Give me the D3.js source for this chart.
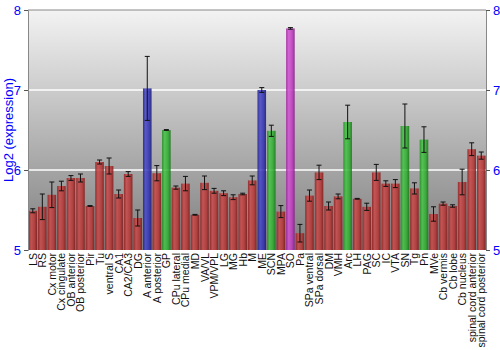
<!DOCTYPE html>
<html>
<head>
<meta charset="utf-8">
<script src="https://cdn.jsdelivr.net/npm/d3@7"></script>
<style>
  html, body { margin: 0; padding: 0; background: #fff; }
  svg { display: block; font-family: "Liberation Sans", Arial, sans-serif; }
</style>
</head>
<body>
<svg id="chart" width="500" height="350"></svg>
<script>
// Brain regions along the x axis
const regions = [
  "LS", "RS", "Cx motor", "Cx cingulate", "OB anterior", "OB posterior", "Pir", "Tu",
  "ventral S", "CA1", "CA2/CA3", "DG", "A anterior", "A posterior", "GP", "CPu lateral",
  "CPu medial", "MD", "VA/VL", "VPM/VPL", "LG", "MG", "Hb", "M", "ME", "SCN", "MPA",
  "SO", "Pa", "SPa ventral", "SPa dorsal", "DM", "VMH", "Arc", "LH", "PAG", "SC", "IC",
  "VTA", "SN", "Tg", "Pn", "MVe", "Cb vermis", "Cb lobe", "Cb nucleus",
  "spinal cord anterior", "spinal cord posterior"
];

// Mean log2 expression per region
const expression = [
  5.49, 5.54, 5.69, 5.80, 5.90, 5.90, 5.55, 6.10,
  6.05, 5.70, 5.95, 5.40, 7.02, 5.96, 6.50, 5.78,
  5.83, 5.44, 5.84, 5.74, 5.71, 5.66, 5.70, 5.87, 7.00, 6.49, 5.48,
  7.77, 5.21, 5.68, 5.97, 5.55, 5.67, 6.60, 5.64, 5.54, 5.97, 5.83,
  5.83, 6.55, 5.77, 6.38, 5.45, 5.58, 5.55, 5.85,
  6.26, 6.18
];

// Standard error per region
const stdError = [
  0.025, 0.16, 0.16, 0.06, 0.03, 0.05, 0.005, 0.025,
  0.10, 0.05, 0.03, 0.10, 0.40, 0.095, 0.005, 0.02,
  0.09, 0.005, 0.085, 0.03, 0.03, 0.03, 0.01, 0.055, 0.03, 0.07, 0.075,
  0.01, 0.11, 0.07, 0.09, 0.05, 0.03, 0.21, 0.005, 0.045, 0.10, 0.035,
  0.05, 0.275, 0.07, 0.16, 0.09, 0.02, 0.015, 0.16,
  0.08, 0.045
];

// Bar colour group per region: r = red, b = blue, g = green, m = magenta
const colourGroup = [
  "r", "r", "r", "r", "r", "r", "r", "r",
  "r", "r", "r", "r", "b", "r", "g", "r",
  "r", "r", "r", "r", "r", "r", "r", "r", "b", "g", "r",
  "m", "r", "r", "r", "r", "r", "g", "r", "r", "r", "r",
  "r", "g", "r", "g", "r", "r", "r", "r",
  "r", "r"
];

const yTicks = [5, 6, 7, 8];

const W = 500, H = 350;
const margin = { left: 28, right: 14, top: 10, bottom: 100 };
const x0 = margin.left, x1 = W - margin.right;
const y0 = H - margin.bottom, y1 = margin.top;

const svg = d3.select("#chart");
const defs = svg.append("defs");

// Background: light grey at the top fading to mid grey at the bottom
const bg = defs.append("linearGradient").attr("id", "bg")
  .attr("x1", 0).attr("y1", 0).attr("x2", 0).attr("y2", 1);
bg.append("stop").attr("offset", "0%").attr("stop-color", "#f3f3f3");
bg.append("stop").attr("offset", "100%").attr("stop-color", "#7d7d7d");

// Cylinder-like horizontal shading for each bar colour
const palette = {
  r: ["#921f1f", "#c84c4c", "#b63838", "#7e1a1a"],
  b: ["#1f1f8e", "#4a4ac8", "#3232b2", "#1a1a76"],
  g: ["#1f8e1f", "#4ac44a", "#30ac30", "#1a741a"],
  m: ["#9e1f9e", "#d254d2", "#bc3abc", "#841a84"]
};
Object.entries(palette).forEach(([k, c]) => {
  const g = defs.append("linearGradient").attr("id", "bar-" + k)
    .attr("x1", 0).attr("y1", 0).attr("x2", 1).attr("y2", 0);
  g.append("stop").attr("offset", "0%").attr("stop-color", c[0]);
  g.append("stop").attr("offset", "30%").attr("stop-color", c[1]);
  g.append("stop").attr("offset", "70%").attr("stop-color", c[2]);
  g.append("stop").attr("offset", "100%").attr("stop-color", c[3]);
});

const x = d3.scaleBand().domain(regions).range([x0, x1]).paddingInner(0.1).paddingOuter(0.05);
const y = d3.scaleLinear().domain([5, 8]).range([y0, y1]);

// Plot background
svg.append("rect")
  .attr("x", x0).attr("y", y1)
  .attr("width", x1 - x0).attr("height", y0 - y1)
  .attr("fill", "url(#bg)");

// Horizontal grid lines
svg.append("g").selectAll("line")
  .data(yTicks.filter(t => t > 5 && t < 8))
  .join("line")
  .attr("x1", x0).attr("x2", x1)
  .attr("y1", d => y(d)).attr("y2", d => y(d))
  .attr("stroke", "#ffffff").attr("stroke-width", 1.5);

// Bars (slightly translucent, so the grid shows through)
svg.append("g").selectAll("rect")
  .data(regions)
  .join("rect")
  .attr("x", d => x(d))
  .attr("width", x.bandwidth())
  .attr("y", (d, i) => y(expression[i]))
  .attr("height", (d, i) => y(5) - y(expression[i]))
  .attr("fill", (d, i) => "url(#bar-" + colourGroup[i] + ")")
  .attr("opacity", 0.88);

// Error bars
const err = svg.append("g").attr("stroke", "#111").attr("stroke-width", 1);
regions.forEach((r, i) => {
  const cx = x(r) + x.bandwidth() / 2;
  const top = y(expression[i] + stdError[i]);
  const bot = y(expression[i] - stdError[i]);
  err.append("line").attr("x1", cx).attr("x2", cx).attr("y1", top).attr("y2", bot);
  err.append("line").attr("x1", cx - 2.5).attr("x2", cx + 2.5).attr("y1", top).attr("y2", top);
  err.append("line").attr("x1", cx - 2.5).attr("x2", cx + 2.5).attr("y1", bot).attr("y2", bot);
});

// Frame top
svg.append("line")
  .attr("x1", x0).attr("x2", x1).attr("y1", y1).attr("y2", y1)
  .attr("stroke", "#888").attr("stroke-width", 1);

// Left and right value axes
const leftAxis = svg.append("g").attr("transform", `translate(${x0},0)`)
  .call(d3.axisLeft(y).tickValues(yTicks).tickFormat(d3.format("d")).tickSize(4).tickPadding(3));
const rightAxis = svg.append("g").attr("transform", `translate(${x1},0)`)
  .call(d3.axisRight(y).tickValues(yTicks).tickFormat(d3.format("d")).tickSize(4).tickPadding(3));
[leftAxis, rightAxis].forEach(a => {
  a.select(".domain").attr("stroke", "#888");
  a.selectAll(".tick line").attr("stroke", "#555");
  a.selectAll(".tick text")
    .attr("fill", "#0000ff")
    .style("font-size", "13px")
    .style("font-family", "Liberation Sans, Arial, sans-serif");
});

// Region labels, rotated
svg.append("g").selectAll("text")
  .data(regions)
  .join("text")
  .attr("transform", d => `translate(${x(d) + x.bandwidth() / 2 + 4},${y0 + 3}) rotate(-90)`)
  .attr("text-anchor", "end")
  .attr("fill", "#111")
  .style("font-size", "10.5px")
  .text(d => d);

// Y axis title
svg.append("text")
  .attr("transform", `translate(13,${(y0 + y1) / 2}) rotate(-90)`)
  .attr("text-anchor", "middle")
  .attr("fill", "#0000ff")
  .style("font-size", "13px")
  .text("Log2 (expression)");
</script>
</body>
</html>
